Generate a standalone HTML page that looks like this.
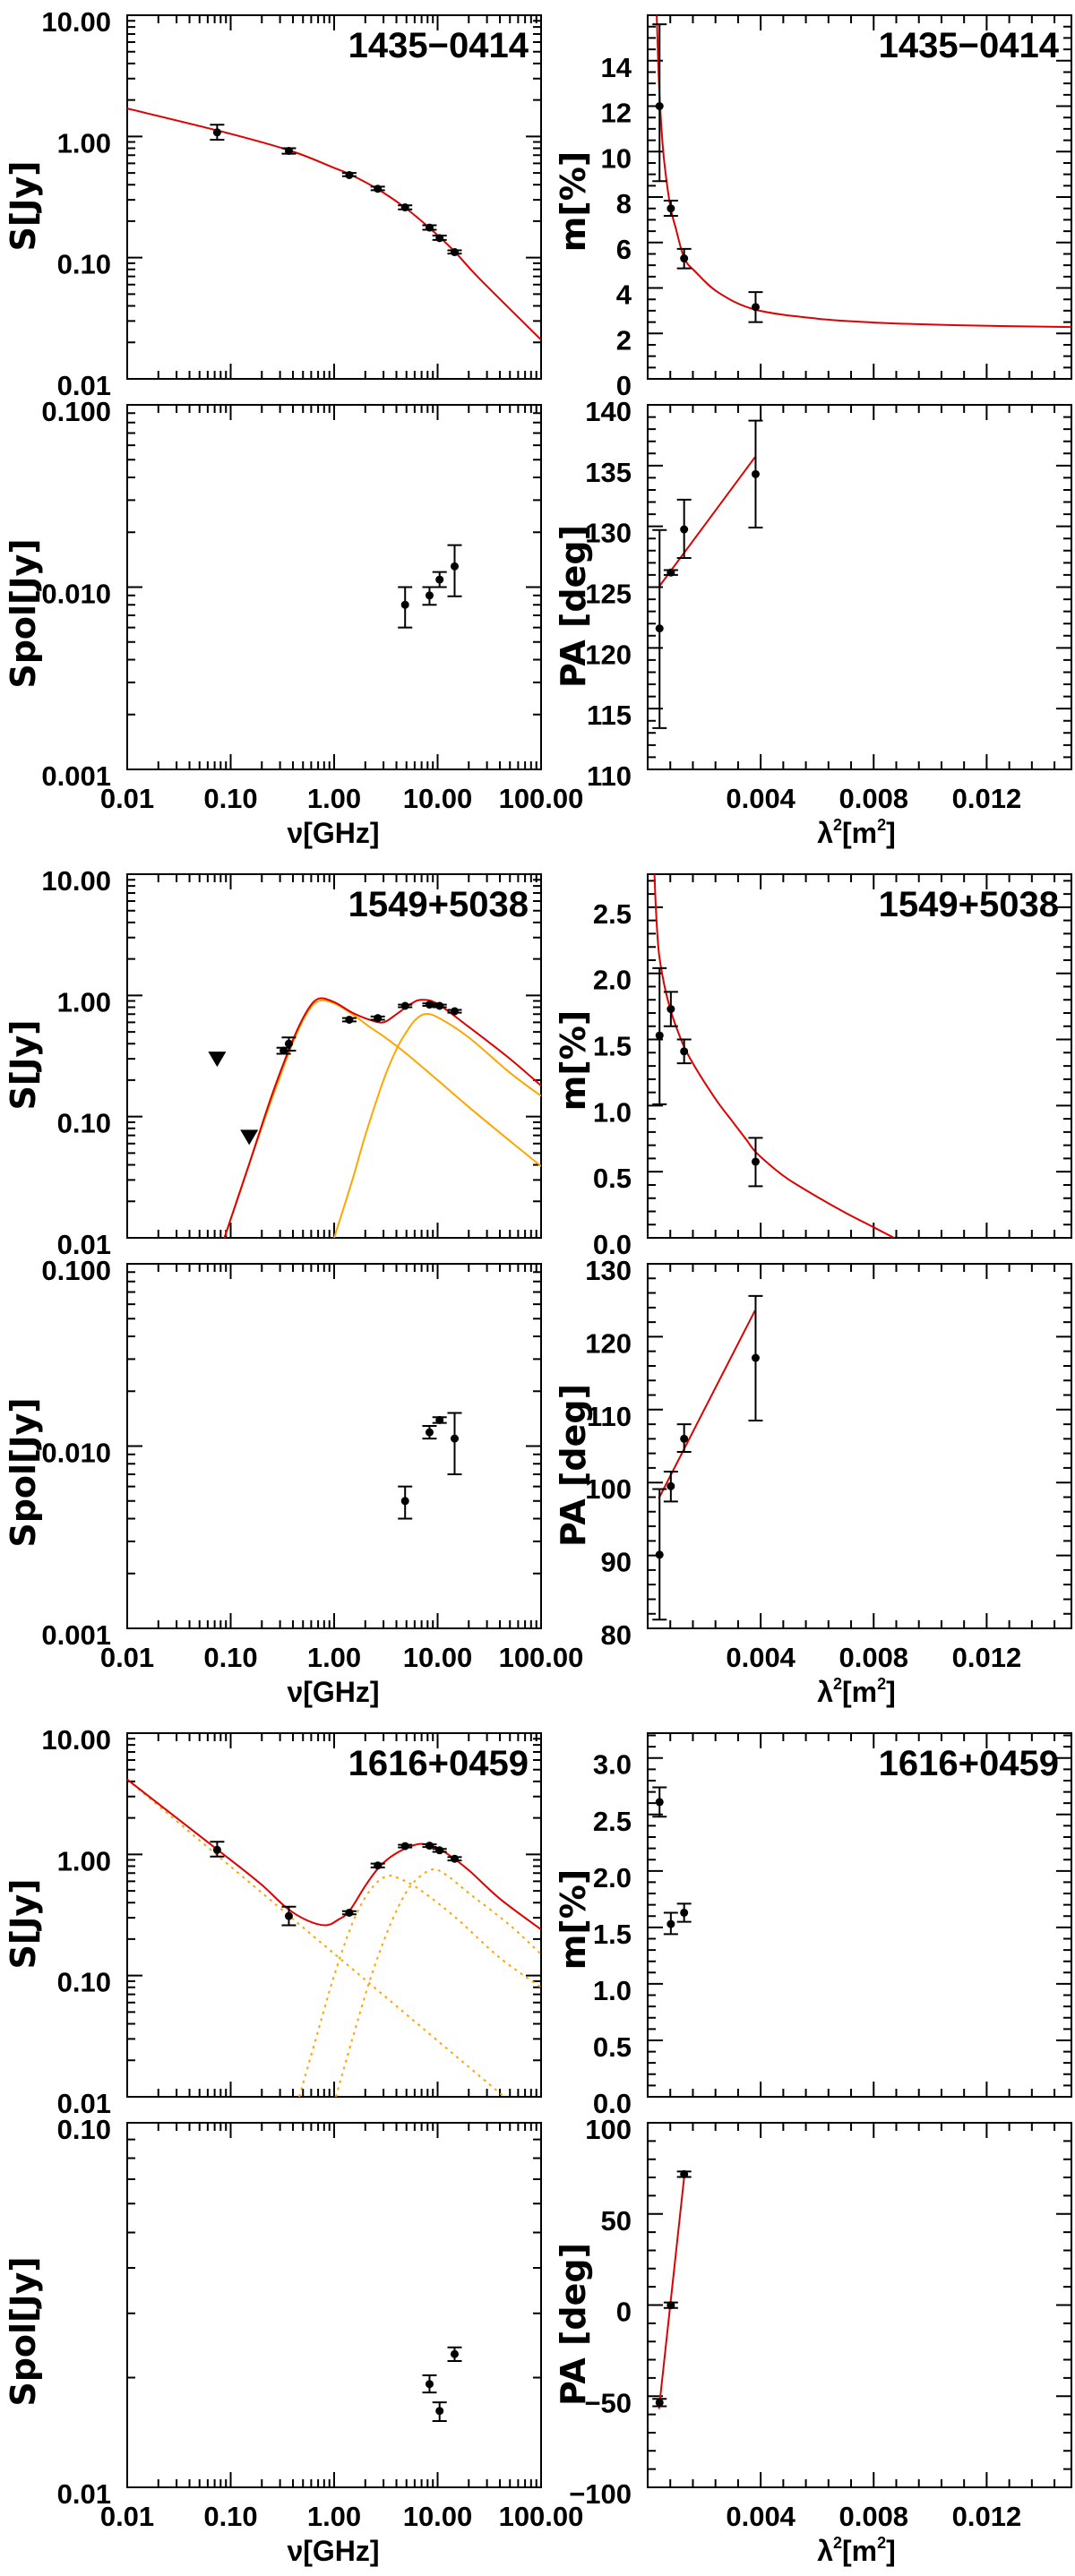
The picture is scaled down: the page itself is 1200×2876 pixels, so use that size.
<!DOCTYPE html>
<html><head><meta charset="utf-8"><title>Radio spectra and polarization</title>
<style>
html,body{margin:0;padding:0;background:#fff;}
svg{display:block;}
text{font-family:"Liberation Sans","DejaVu Sans",sans-serif;font-weight:bold;fill:#000;}
</style></head>
<body>
<svg id="fig" width="1200" height="2876" viewBox="0 0 1200 2876" xmlns="http://www.w3.org/2000/svg"></svg>
<script>
// ===== Data =====
// Group 1: 1435-0414
const s1Freq = [0.074,0.365,1.4,2.64,4.85,8.35,10.45,14.6];
const s1Val  = [1.08,0.76,0.48,0.37,0.26,0.177,0.145,0.111];
const s1Lo   = [0.94,0.72,0.47,0.36,0.25,0.17,0.14,0.108];
const s1Hi   = [1.25,0.80,0.50,0.385,0.27,0.185,0.152,0.115];
const fit1Freq = [0.01,0.1,0.4,1.0,1.4,2.6,4.8,8.4,14.5,25,100];
const fit1Val  = [1.7,1.05,0.75,0.55,0.49,0.37,0.26,0.175,0.113,0.068,0.021];
const p1Freq = [4.85,8.35,10.45,14.6];
const p1Val  = [0.008,0.009,0.011,0.013];
const p1Lo   = [0.006,0.008,0.010,0.0089];
const p1Hi   = [0.010,0.010,0.0121,0.017];
const m1L2  = [0.00042,0.00082,0.00129,0.00382];
const m1Val = [12.0,7.5,5.3,3.16];
const m1Lo  = [8.7,7.17,4.86,2.5];
const m1Hi  = [15.6,7.84,5.72,3.82];
const m1FitL2  = [0.00032,0.0004,0.0005,0.0006,0.0008,0.001,0.0013,0.0017,0.0025,0.0038,0.006,0.008,0.011,0.015];
const m1FitVal = [16,13,10.8,9.4,7.6,6.6,5.3,4.7,3.8,3.05,2.65,2.48,2.36,2.28];
const pa1Val = [121.6,126.2,129.75,134.3];
const pa1Lo  = [113.4,126.0,127.4,129.9];
const pa1Hi  = [129.7,126.4,132.2,138.7];
const pa1FitL2  = [0.00039,0.0038];
const pa1FitVal = [125.0,135.7];

// Group 2: 1549+5038
const s2Freq = [0.325,0.365,1.4,2.64,4.85,8.35,10.45,14.6];
const s2Val  = [0.35,0.40,0.63,0.65,0.82,0.84,0.82,0.74];
const s2Lo   = [0.33,0.35,0.61,0.63,0.80,0.82,0.80,0.72];
const s2Hi   = [0.37,0.45,0.65,0.67,0.84,0.86,0.84,0.76];
const lim2Freq = [0.074,0.151];
const lim2Val  = [0.30,0.068];
const fit2Freq = [0.087,0.15,0.25,0.4,0.55,0.71,1.0,1.5,2.2,3.0,4.0,5.5,7.0,10,20,50,100];
const fit2Val  = [0.01,0.04,0.15,0.43,0.75,0.94,0.88,0.72,0.63,0.60,0.70,0.85,0.92,0.85,0.55,0.30,0.18];
const comp2aFreq = [0.087,0.15,0.25,0.4,0.55,0.71,1.0,1.5,2.2,3.0,5,10,20,50,100];
const comp2aVal  = [0.01,0.04,0.14,0.41,0.72,0.9,0.86,0.70,0.55,0.46,0.33,0.20,0.12,0.063,0.039];
const comp2bFreq = [1.0,1.5,2,3,4,5,6,7.5,10,20,50,100];
const comp2bVal  = [0.01,0.03,0.07,0.2,0.36,0.5,0.62,0.70,0.66,0.45,0.23,0.148];
const p2Freq = [4.85,8.35,10.45,14.6];
const p2Val  = [0.005,0.0119,0.0139,0.011];
const p2Lo   = [0.004,0.011,0.0134,0.007];
const p2Hi   = [0.006,0.0129,0.0144,0.0152];
const m2L2  = [0.00042,0.00082,0.00129,0.00382];
const m2Val = [1.53,1.73,1.41,0.576];
const m2Lo  = [1.01,1.60,1.32,0.39];
const m2Hi  = [2.04,1.86,1.50,0.756];
const m2FitL2  = [0.00024,0.0003,0.0004,0.0006,0.0008,0.001,0.0013,0.0016,0.002,0.0025,0.003,0.0035,0.00382,0.0045,0.005,0.006,0.007,0.008,0.00872];
const m2FitVal = [2.75,2.45,2.15,1.9,1.73,1.6,1.44,1.32,1.18,1.02,0.88,0.74,0.65,0.52,0.44,0.31,0.19,0.08,0.0];
const pa2Val = [90.1,99.5,106.0,117.1];
const pa2Lo  = [81.2,97.4,104.2,108.5];
const pa2Hi  = [99.1,101.5,108.0,125.6];
const pa2FitL2  = [0.00039,0.0038];
const pa2FitVal = [97.8,123.6];

// Group 3: 1616+0459
const s3Freq = [0.074,0.365,1.4,2.64,4.85,8.35,10.45,14.6];
const s3Val  = [1.09,0.31,0.33,0.81,1.17,1.18,1.08,0.92];
const s3Lo   = [0.96,0.26,0.32,0.78,1.14,1.15,1.05,0.89];
const s3Hi   = [1.27,0.37,0.34,0.84,1.20,1.21,1.11,0.95];
const fit3Freq = [0.01,0.03,0.1,0.2,0.35,0.55,0.83,1.1,1.4,2.0,2.64,3.5,5,6.8,9,12,20,40,100];
const fit3Val  = [4.15,2.0,0.9,0.56,0.36,0.285,0.26,0.29,0.34,0.55,0.76,0.95,1.13,1.22,1.17,1.03,0.74,0.43,0.24];
const comp3aFreq = [0.01,44];
const comp3aVal  = [4.15,0.01];
const comp3bFreq = [0.46,0.7,1.0,1.5,2.2,3.2,4.5,7,15,40,100];
const comp3bVal  = [0.01,0.035,0.1,0.27,0.5,0.66,0.62,0.5,0.3,0.14,0.08];
const comp3cFreq = [1.04,1.5,2.2,3.2,4.5,6,8.8,12,20,50,100];
const comp3cVal  = [0.01,0.03,0.09,0.22,0.42,0.6,0.75,0.68,0.48,0.26,0.15];
const p3Freq = [8.35,10.45,14.6];
const p3Val  = [0.0192,0.0162,0.0232];
const p3Lo   = [0.0182,0.0152,0.0222];
const p3Hi   = [0.0203,0.0171,0.0242];
const m3L2  = [0.00042,0.00082,0.00129];
const m3Val = [2.61,1.53,1.63];
const m3Lo  = [2.48,1.44,1.55];
const m3Hi  = [2.74,1.63,1.71];
const pa3L2  = [0.00042,0.00082,0.00129];
const pa3Val = [-53.5,-0.1,71.8];
const pa3Lo  = [-55.5,-1.6,70.3];
const pa3Hi  = [-51.5,1.4,73.3];
const pa3FitL2  = [0.0004,0.00129];
const pa3FitVal = [-57,70];

// Tick labels
const freqTickVals = [0.01,0.1,1,10,100];
const freqTickLabels = ["0.01","0.10","1.00","10.00","100.00"];
const l2TickVals = [0.004,0.008,0.012];
const l2TickLabels = ["0.004","0.008","0.012"];
const sTickVals = [0.01,0.1,1,10];
const sTickLabels = ["0.01","0.10","1.00","10.00"];
const spolTickVals = [0.001,0.01,0.1];
const spolTickLabels = ["0.001","0.010","0.100"];
const spol3TickVals = [0.01,0.1];
const spol3TickLabels = ["0.01","0.10"];
const m1TickVals = [0,2,4,6,8,10,12,14];
const m1TickLabels = ["0","2","4","6","8","10","12","14"];
const pa1TickVals = [110,115,120,125,130,135,140];
const pa1TickLabels = ["110","115","120","125","130","135","140"];
const m2TickVals = [0,0.5,1,1.5,2,2.5];
const m2TickLabels = ["0.0","0.5","1.0","1.5","2.0","2.5"];
const pa2TickVals = [80,90,100,110,120,130];
const pa2TickLabels = ["80","90","100","110","120","130"];
const m3TickVals = [0,0.5,1,1.5,2,2.5,3];
const m3TickLabels = ["0.0","0.5","1.0","1.5","2.0","2.5","3.0"];
const pa3TickVals = [-100,-50,0,50,100];
const pa3TickLabels = ["\u2212100","\u221250","0","50","100"];
const sourceNames = ["1435\u22120414","1549+5038","1616+0459"];

// ===== Drawing =====
const NS = 'http://www.w3.org/2000/svg';
const svg = document.getElementById('fig');
function el(tag, attrs, parent){
  const e = document.createElementNS(NS, tag);
  for (const k in attrs) e.setAttribute(k, attrs[k]);
  (parent || svg).appendChild(e);
  return e;
}
function lg(v){ return Math.log10(v); }
function mkScale(type, dmin, dmax, pmin, pmax){
  if (type === 'log') return v => pmin + (lg(v) - lg(dmin)) / (lg(dmax) - lg(dmin)) * (pmax - pmin);
  return v => pmin + (v - dmin) / (dmax - dmin) * (pmax - pmin);
}
function tickList(type, min, max, major, minor){
  const out = [];
  if (type === 'log'){
    for (let e = Math.floor(lg(min)); e <= Math.ceil(lg(max)); e++){
      for (let k = 1; k <= 9; k++){
        const v = k * Math.pow(10, e);
        if (v >= min * 0.999 && v <= max * 1.001) out.push({v: v, maj: k === 1});
      }
    }
  } else {
    const n0 = Math.ceil(min / minor - 1e-6), n1 = Math.floor(max / minor + 1e-6);
    for (let n = n0; n <= n1; n++){
      const v = n * minor;
      const r = v / major;
      out.push({v: v, maj: Math.abs(r - Math.round(r)) < 1e-6});
    }
  }
  return out;
}
let clipN = 0;
function makePanel(name, x, y, w, h, xType, xMin, xMax, xMaj, xMin2, yType, yMin, yMax, yMaj, yMin2){
  const g = el('g', {});
  
  
  const id = 'clip' + (clipN++);
  const cp = el('clipPath', {id: id}, g);
  el('rect', {x: x, y: y, width: w, height: h}, cp);
  const p = {g: g, x: x, y: y, w: w, h: h,
    sx: mkScale(xType, xMin, xMax, x, x + w),
    sy: mkScale(yType, yMin, yMax, y + h, y),
    clip: 'url(#' + id + ')'};
  const ticks = el('g', {stroke: '#000', 'stroke-width': 2, fill: 'none'}, g);
  
  
  let d = '';
  const xt = tickList(xType, xMin, xMax, xMaj, xMin2);
  xt.forEach(t => {
    const X = p.sx(t.v), L = t.maj ? 17 : 9;
    d += 'M' + X + ' ' + (y + h) + 'v' + (-L) + 'M' + X + ' ' + y + 'v' + L;
  });
  const yt = tickList(yType, yMin, yMax, yMaj, yMin2);
  yt.forEach(t => {
    const Y = p.sy(t.v), L = t.maj ? 17 : 9;
    d += 'M' + x + ' ' + Y + 'h' + L + 'M' + (x + w) + ' ' + Y + 'h' + (-L);
  });
  el('path', {d: d}, ticks);
  const frame = el('rect', {x: x, y: y, width: w, height: h, fill: 'none', stroke: '#000', 'stroke-width': 2}, g);
  
  
  return p;
}
function yTickLabels(p, vals, labels, name){
  vals.forEach((v, i) => {
    const t = el('text', {x: p.x - 18, y: p.sy(v) + 18, 'text-anchor': 'end', 'font-size': 31}, p.g);
    t.textContent = labels[i];
    
    
  });
}
function xTickLabels(p, vals, labels, name){
  vals.forEach((v, i) => {
    const t = el('text', {x: p.sx(v), y: p.y + p.h + 43, 'text-anchor': 'middle', 'font-size': 31}, p.g);
    t.textContent = labels[i];
    
    
  });
}
function yTitle(str, cx, cy, name){
  const t = el('text', {x: cx, y: cy, transform: 'rotate(-90 ' + cx + ' ' + cy + ')', 'text-anchor': 'middle', 'dominant-baseline': 'central', 'font-size': 38, style: 'font-family:"DejaVu Sans",sans-serif;font-weight:bold'});
  t.textContent = str;
  
  
}
function smoothPath(pts){
  let d = 'M' + pts[0][0] + ' ' + pts[0][1];
  for (let i = 0; i < pts.length - 1; i++){
    const p0 = pts[i - 1] || pts[i], p1 = pts[i], p2 = pts[i + 1], p3 = pts[i + 2] || pts[i + 1];
    const c1x = p1[0] + (p2[0] - p0[0]) / 6, c1y = p1[1] + (p2[1] - p0[1]) / 6;
    const c2x = p2[0] - (p3[0] - p1[0]) / 6, c2y = p2[1] - (p3[1] - p1[1]) / 6;
    d += 'C' + c1x + ' ' + c1y + ' ' + c2x + ' ' + c2y + ' ' + p2[0] + ' ' + p2[1];
  }
  return d;
}
function curve(p, xs, ys, color, name, dash){
  const pts = xs.map((v, i) => [p.sx(v), p.sy(ys[i])]);
  const attrs = {d: smoothPath(pts), fill: 'none', stroke: color, 'stroke-width': 2, 'clip-path': p.clip};
  if (dash) attrs['stroke-dasharray'] = dash;
  const e = el('path', attrs, p.g);
  
  
}
function points(p, xs, vals, lo, hi, name){
  const g = el('g', {}, p.g);
  
  
  xs.forEach((v, i) => {
    const X = p.sx(v), Y = p.sy(vals[i]), Y0 = p.sy(lo[i]), Y1 = p.sy(hi[i]);
    const bar = el('path', {d: 'M' + X + ' ' + Y0 + 'V' + Y1 + 'M' + (X - 8) + ' ' + Y0 + 'h16M' + (X - 8) + ' ' + Y1 + 'h16', stroke: '#000', 'stroke-width': 2, fill: 'none'}, g);
    
    
    const c = el('circle', {cx: X, cy: Y, r: 4.5, fill: '#000'}, g);
    
    
  });
}
function limits(p, xs, vals, name){
  xs.forEach((v, i) => {
    const X = p.sx(v), Y = p.sy(vals[i]);
    const t = el('path', {d: 'M' + (X - 10) + ' ' + (Y - 8) + 'h20L' + X + ' ' + (Y + 9) + 'Z', fill: '#000'}, p.g);
    
    
  });
}
function nameLabel(p, str, name){
  const t = el('text', {x: p.x + p.w - 14, y: p.y + 47, 'text-anchor': 'end', 'font-size': 40}, p.g);
  t.textContent = str;
  
  
}
function xTitles(bottom){
  const t1 = el('text', {x: 372, y: bottom + 82, 'text-anchor': 'middle', 'font-size': 32});
  t1.textContent = '\u03bd[GHz]';
  
  
  const t2 = el('text', {x: 956, y: bottom + 82, 'text-anchor': 'middle', 'font-size': 32});
  
  
  const a = el('tspan', {}, t2); a.textContent = '\u03bb';
  const b = el('tspan', {dy: -14, 'font-size': 18}, t2); b.textContent = '2';
  const c = el('tspan', {dy: 14}, t2); c.textContent = '[m';
  const d = el('tspan', {dy: -14, 'font-size': 18}, t2); d.textContent = '2';
  const e = el('tspan', {dy: 14}, t2); e.textContent = ']';
}

const LX = 142, LW = 462, RX = 723, RW = 473, GOFF = 959;
const TOPY = 17, TOPH = 406, BOTY = 452, BOTH = 407;

function group(gi, cfg){
  const o = gi * GOFF;
  const sp = makePanel('flux-panel-' + (gi + 1), LX, TOPY + o, LW, TOPH, 'log', 0.01, 100, 0, 0, 'log', 0.01, 10, 0, 0);
  yTickLabels(sp, sTickVals, sTickLabels, 'flux-y-tick-label');
  nameLabel(sp, sourceNames[gi], 'source-name-left');
  const pp = makePanel('pol-flux-panel-' + (gi + 1), LX, BOTY + o, LW, BOTH, 'log', 0.01, 100, 0, 0, 'log', cfg.spolMin, 0.1, 0, 0);
  yTickLabels(pp, cfg.spolTicks, cfg.spolLabels, 'pol-flux-y-tick-label');
  xTickLabels(pp, freqTickVals, freqTickLabels, 'frequency-tick-label');
  const mp = makePanel('pol-degree-panel-' + (gi + 1), RX, TOPY + o, RW, TOPH, 'lin', 0, 0.015, 0.004, 0.0008, 'lin', 0, cfg.mMax, cfg.mMaj, cfg.mMin);
  yTickLabels(mp, cfg.mTicks, cfg.mLabels, 'pol-degree-y-tick-label');
  nameLabel(mp, sourceNames[gi], 'source-name-right');
  const ap = makePanel('pol-angle-panel-' + (gi + 1), RX, BOTY + o, RW, BOTH, 'lin', 0, 0.015, 0.004, 0.0008, 'lin', cfg.paMin, cfg.paMax, cfg.paMaj, cfg.paMin2);
  yTickLabels(ap, cfg.paTicks, cfg.paLabels, 'pol-angle-y-tick-label');
  xTickLabels(ap, l2TickVals, l2TickLabels, 'lambda-squared-tick-label');
  yTitle('S[Jy]', 26, 230 + o, 'flux-y-title');
  yTitle('Spol[Jy]', 26, 685 + o, 'pol-flux-y-title');
  yTitle('m[%]', 640, 225 + o, 'pol-degree-y-title');
  yTitle('PA [deg]', 640, 677 + o, 'pol-angle-y-title');
  xTitles(BOTY + o + BOTH);
  return {sp: sp, pp: pp, mp: mp, ap: ap};
}

// Group 1
const G1 = group(0, {spolMin: 0.001, spolTicks: spolTickVals, spolLabels: spolTickLabels,
  mMax: 16, mMaj: 2, mMin: 0.5, mTicks: m1TickVals, mLabels: m1TickLabels,
  paMin: 110, paMax: 140, paMaj: 5, paMin2: 1, paTicks: pa1TickVals, paLabels: pa1TickLabels});
curve(G1.sp, fit1Freq, fit1Val, '#e00000', 'spectrum-fit');
points(G1.sp, s1Freq, s1Val, s1Lo, s1Hi, 'flux-points');
points(G1.pp, p1Freq, p1Val, p1Lo, p1Hi, 'pol-flux-points');
curve(G1.mp, m1FitL2, m1FitVal, '#e00000', 'depolarization-fit');
points(G1.mp, m1L2, m1Val, m1Lo, m1Hi, 'pol-degree-points');
curve(G1.ap, pa1FitL2, pa1FitVal, '#e00000', 'rotation-measure-fit');
points(G1.ap, m1L2, pa1Val, pa1Lo, pa1Hi, 'pol-angle-points');

// Group 2
const G2 = group(1, {spolMin: 0.001, spolTicks: spolTickVals, spolLabels: spolTickLabels,
  mMax: 2.75, mMaj: 0.5, mMin: 0.1, mTicks: m2TickVals, mLabels: m2TickLabels,
  paMin: 80, paMax: 130, paMaj: 10, paMin2: 2, paTicks: pa2TickVals, paLabels: pa2TickLabels});
curve(G2.sp, comp2aFreq, comp2aVal, '#ffa500', 'spectrum-component-1');
curve(G2.sp, comp2bFreq, comp2bVal, '#ffa500', 'spectrum-component-2');
curve(G2.sp, fit2Freq, fit2Val, '#e00000', 'spectrum-fit');
limits(G2.sp, lim2Freq, lim2Val, 'upper-limit');
points(G2.sp, s2Freq, s2Val, s2Lo, s2Hi, 'flux-points');
points(G2.pp, p2Freq, p2Val, p2Lo, p2Hi, 'pol-flux-points');
curve(G2.mp, m2FitL2, m2FitVal, '#e00000', 'depolarization-fit');
points(G2.mp, m2L2, m2Val, m2Lo, m2Hi, 'pol-degree-points');
curve(G2.ap, pa2FitL2, pa2FitVal, '#e00000', 'rotation-measure-fit');
points(G2.ap, m2L2, pa2Val, pa2Lo, pa2Hi, 'pol-angle-points');

// Group 3
const G3 = group(2, {spolMin: 0.01, spolTicks: spol3TickVals, spolLabels: spol3TickLabels,
  mMax: 3.22, mMaj: 0.5, mMin: 0.1, mTicks: m3TickVals, mLabels: m3TickLabels,
  paMin: -100, paMax: 100, paMaj: 50, paMin2: 10, paTicks: pa3TickVals, paLabels: pa3TickLabels});
curve(G3.sp, comp3aFreq, comp3aVal, '#ffa500', 'spectrum-component-1', '3,5');
curve(G3.sp, comp3bFreq, comp3bVal, '#ffa500', 'spectrum-component-2', '3,5');
curve(G3.sp, comp3cFreq, comp3cVal, '#ffa500', 'spectrum-component-3', '3,5');
curve(G3.sp, fit3Freq, fit3Val, '#e00000', 'spectrum-fit');
points(G3.sp, s3Freq, s3Val, s3Lo, s3Hi, 'flux-points');
points(G3.pp, p3Freq, p3Val, p3Lo, p3Hi, 'pol-flux-points');
points(G3.mp, m3L2, m3Val, m3Lo, m3Hi, 'pol-degree-points');
curve(G3.ap, pa3FitL2, pa3FitVal, '#e00000', 'rotation-measure-fit');
points(G3.ap, pa3L2, pa3Val, pa3Lo, pa3Hi, 'pol-angle-points');
</script>
</body></html>
